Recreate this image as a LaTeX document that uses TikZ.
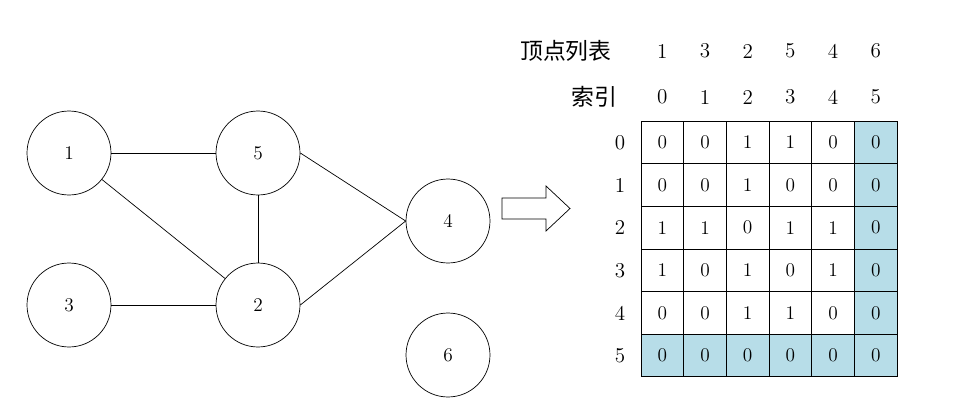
\documentclass[tikz,border=0pt]{standalone}
\usepackage{fontspec}
\newfontfamily\cjk{Noto Sans CJK SC}
\definecolor{cellblue}{RGB}{183,221,232}

\begin{document}
\begin{tikzpicture}[x=0.02cm, y=-0.02cm,
    vertex/.style={circle, draw, minimum size=1.68cm, inner sep=0pt, font=\fontsize{11}{13}\selectfont},
    cell/.style={draw, minimum width=0.854cm, minimum height=0.852cm, inner sep=0pt, font=\fontsize{11}{13}\selectfont},
    lbl/.style={inner sep=0pt, font=\large}]
    \useasboundingbox (0,0) rectangle (957,419);
    % graph
    \node[vertex] (v1) at (69,153) {1};
    \node[vertex] (v5) at (258,153) {5};
    \node[vertex] (v3) at (69,305) {3};
    \node[vertex] (v2) at (258,305) {2};
    \node[vertex] (v4) at (448,221) {4};
    \node[vertex] (v6) at (448,355) {6};
    \draw (v1) -- (v5); \draw (v1) -- (v2); \draw (v5) -- (v2); \draw (v3) -- (v2); \draw (v5.east) -- (v4.west); \draw (v2.east) -- (v4.west);
    % arrow
    \draw (502,198) -- (546,198) -- (546,186) -- (570,208.5) -- (546,231) -- (546,219) -- (502,219) -- cycle;
    % headers
    \node[lbl, font=\cjk\fontsize{13}{15}\selectfont, anchor=east] (vlist) at (612,51) {顶点列表};
    \node[lbl, font=\cjk\fontsize{13}{15}\selectfont, anchor=east] (idx) at (618,97) {索引};
    \foreach \v [count=\c from 0] in {1,3,2,5,4,6}
        \node[lbl] (h-\c) at (662.3+42.7*\c,51) {\v};
    \foreach \c in {0,...,5}
        \node[lbl] (i-\c) at (662.3+42.7*\c,97) {\c};
    % adjacency matrix
    \foreach \r/\row in {0/{0,0,1,1,0,0}, 1/{0,0,1,0,0,0}, 2/{1,1,0,1,1,0}, 3/{1,0,1,0,1,0}, 4/{0,0,1,1,0,0}, 5/{0,0,0,0,0,0}} {
        \node[lbl] (r-\r) at (620,142.5+42.6*\r) {\r};
        \foreach \v [count=\c from 0] in \row {
            \ifnum\r=5 \def\cf{cellblue}\else\ifnum\c=5 \def\cf{cellblue}\else\def\cf{white}\fi\fi
            \node[cell, fill=\cf] (m-\r-\c) at (662.3+42.7*\c,142.5+42.6*\r) {\v};
        }
    }
\end{tikzpicture}
\end{document}
